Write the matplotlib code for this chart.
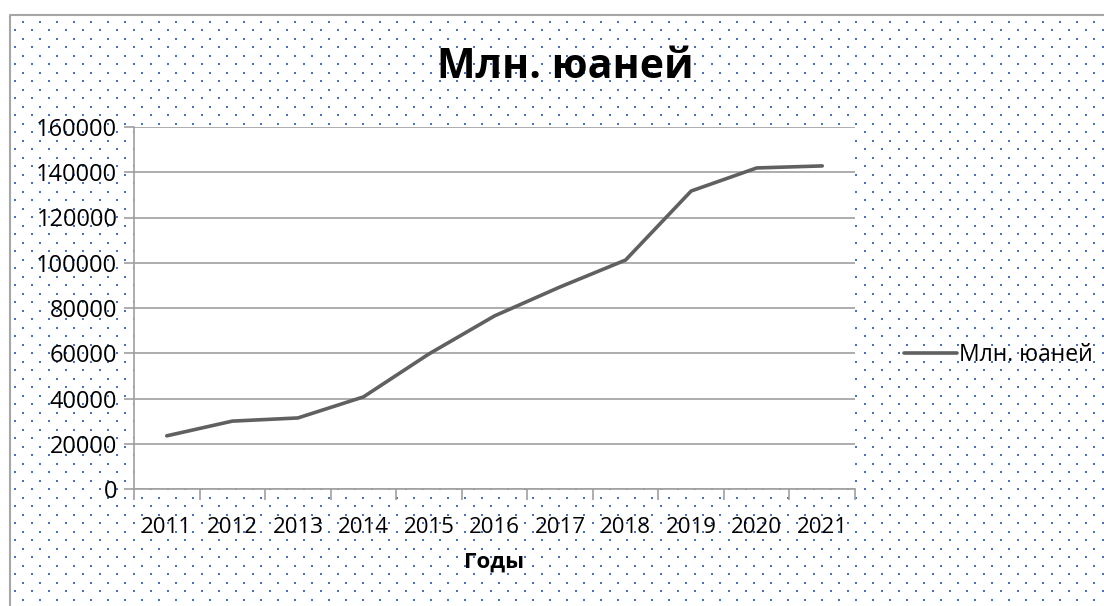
import numpy as np
import matplotlib.pyplot as plt

years = ["2011", "2012", "2013", "2014", "2015", "2016", "2017", "2018", "2019", "2020", "2021"]
values = [23500, 30000, 31400, 40700, 59700, 76500, 89300, 101200, 131700, 141900, 142800]
yticks = [0, 20000, 40000, 60000, 80000, 100000, 120000, 140000, 160000]
title = "Млн. юаней"
series_name = "Млн. юаней"
xlabel = "Годы"

plt.rcParams['font.family'] = ['Open Sans', 'DejaVu Sans']

W, H = 1104, 606
fig = plt.figure(figsize=(W / 100, H / 100), dpi=100)

# dotted background of the chart area
bg = fig.add_axes([0, 0, 1, 1])
bg.set_xlim(0, W)
bg.set_ylim(H, 0)
bg.axis("off")
rows = np.arange(21.5, H, 8.5)
xs, ys = [], []
for i, ry in enumerate(rows):
    start = 23.3 if i % 2 == 0 else 15
    for cx in np.arange(start, W, 17):
        xs.append(cx)
        ys.append(ry)
bg.scatter(xs, ys, s=3.2, marker="s", color="#4472C4", linewidths=0)
bg.plot([10, 10, W], [H, 15, 15], color="#a6a6a6", lw=1.5)

ax = fig.add_axes([134 / W, 1 - 489 / H, 721 / W, 362 / H])
ax.set_facecolor("white")
x = np.arange(len(years))
ax.plot(x, values, color="#606060", lw=2.6, solid_capstyle="round", label=series_name)

ax.set_xlim(-0.5, len(years) - 0.5)
ax.set_ylim(0, 160000)
ax.set_yticks(yticks)
ax.set_yticklabels([str(v) for v in yticks], fontsize=17)
ax.yaxis.grid(True, color="#a0a0a0", lw=1.2)
ax.set_axisbelow(True)

ax.set_xticks(np.arange(-0.5, len(years), 1.0))
ax.set_xticklabels([])
ax.set_xticks(x, minor=True)
ax.set_xticklabels(years, minor=True, fontsize=16)
ax.tick_params(axis="x", which="major", length=8, color="#a0a0a0", width=1.2)
ax.tick_params(axis="x", which="minor", length=0, pad=20)
ax.tick_params(axis="y", length=7, color="#a0a0a0", width=1.2, pad=5)

for side in ["top", "right"]:
    ax.spines[side].set_visible(False)
for side in ["left", "bottom"]:
    ax.spines[side].set_color("#a0a0a0")
    ax.spines[side].set_linewidth(1.2)

ax.set_xlabel(xlabel, fontsize=16, fontweight="bold", labelpad=10)
fig.text(565 / W, 1 - 68 / H, title, fontsize=29.5, fontweight="bold", ha="center", va="center")

leg = ax.legend(loc="center left", bbox_to_anchor=(1.04, 0.37), frameon=False,
                fontsize=16.5, handlelength=2.3, handletextpad=0.1)

fig.savefig("out.png", dpi=100)
